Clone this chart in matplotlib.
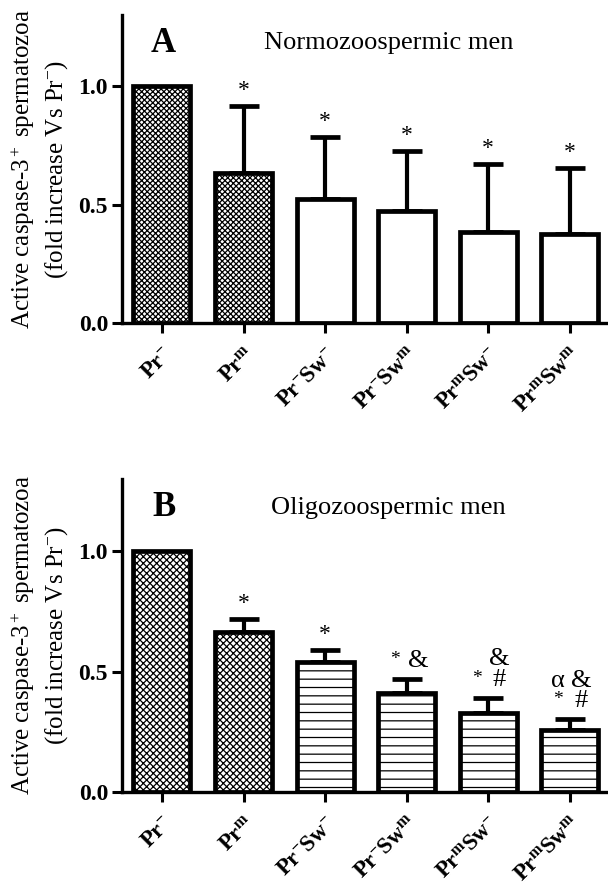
import numpy as np
import matplotlib
matplotlib.use("Agg")
from matplotlib import pyplot as plt

plt.rcParams['font.family'] = ['Liberation Serif', 'DejaVu Serif']
plt.rcParams['mathtext.fontset'] = 'custom'
plt.rcParams['mathtext.rm'] = 'Liberation Serif'
plt.rcParams['mathtext.bf'] = 'Liberation Serif:bold'
plt.rcParams['mathtext.it'] = 'Liberation Serif:italic'
plt.rcParams['hatch.linewidth'] = 0.9

# data
groups = [r"$\mathbf{Pr^{-}}$", r"$\mathbf{Pr^{m}}$", r"$\mathbf{Pr^{-}Sw^{-}}$",
          r"$\mathbf{Pr^{-}Sw^{m}}$", r"$\mathbf{Pr^{m}Sw^{-}}$", r"$\mathbf{Pr^{m}Sw^{m}}$"]
normo_mean = [1.0, 0.634, 0.523, 0.473, 0.385, 0.377]
normo_err = [0.0, 0.282, 0.262, 0.254, 0.286, 0.277]
oligo_mean = [1.0, 0.665, 0.539, 0.41, 0.33, 0.257]
oligo_err = [0.0, 0.053, 0.05, 0.06, 0.06, 0.045]

# significance marks: (bar, text, column, row)
normo_marks = [(1, "*", 0, 0), (2, "*", 0, 0), (3, "*", 0, 0), (4, "*", 0, 0), (5, "*", 0, 0)]
oligo_marks = [(1, "*", 0, 0), (2, "*", 0, 0),
               (3, "*", -1, 0), (3, "&", 1, 0),
               (4, "*", -1, 0), (4, "#", 1, 0), (4, "&", 1, 1),
               (5, "*", -1, 0), (5, "#", 1, 0), (5, "α", -1, 1), (5, "&", 1, 1)]

normo_hatch = ['xxxxxx', 'xxxxxx', '', '', '', '']
oligo_hatch = ['xxxxx', 'xxxxx', '--', '--', '--', '--']

fig = plt.figure(figsize=(6.08, 8.89), dpi=100)
axA = fig.add_axes([122 / 608, 1 - 323 / 889, 486 / 608, 308 / 889])
axB = fig.add_axes([122 / 608, 1 - 792 / 889, 486 / 608, 313 / 889])


def draw_panel(ax, means, errs, hatches, marks, letter, title):
    x = np.arange(len(means))
    bars = ax.bar(x, means, width=0.7, color='white', edgecolor='black', linewidth=3.4, zorder=2)
    for b, h in zip(bars, hatches):
        b.set_hatch(h)
    xe = [i for i in x if errs[i] > 0]
    ax.errorbar(xe, [means[i] for i in xe], yerr=[[0] * len(xe), [errs[i] for i in xe]],
                fmt='none', ecolor='black', elinewidth=3, capsize=11, capthick=3.4, zorder=1)
    for i, s, col, row in marks:
        top = means[i] + errs[i]
        if col == 0:
            ax.text(i, top + 0.02, s, ha='center', va='bottom', fontsize=17)
        else:
            fs = 14 if s == "*" else 19
            dy = 0.045 if s == "*" else 0.03
            ax.text(i + 0.14 * col, top + dy + 0.085 * row, s, ha='center', va='bottom',
                    fontsize=fs)
    ax.set_xlim(-0.49, 5.47)
    ax.set_ylim(0, 1.3)
    ax.set_yticks([0, 0.5, 1.0])
    ax.set_yticklabels(["0.0", "0.5", "1.0"], fontweight='bold', fontsize=17)
    ax.set_xticks(x)
    ax.set_xticklabels(groups, rotation=45, ha='right', va='top', rotation_mode='anchor',
                       fontsize=16.5)
    ax.tick_params(axis='both', width=2.2, length=7, direction='out', pad=3)
    ax.tick_params(axis='x', pad=8)
    for side in ['top', 'right']:
        ax.spines[side].set_visible(False)
    for side in ['left', 'bottom']:
        ax.spines[side].set_linewidth(2.4)
    ax.set_ylabel("Active caspase-3$^+$ spermatozoa\n(fold increase Vs Pr$^{-}$)",
                  fontsize=18, labelpad=6, linespacing=1.35)
    ax.text(0.02, 1.18, letter, ha='center', va='center', fontsize=25, fontweight='bold')
    ax.text(2.78, 1.18, title, ha='center', va='center', fontsize=19)


draw_panel(axA, normo_mean, normo_err, normo_hatch, normo_marks, "A", "Normozoospermic men")
draw_panel(axB, oligo_mean, oligo_err, oligo_hatch, oligo_marks, "B", "Oligozoospermic men")

fig.savefig("out.png", dpi=100)
